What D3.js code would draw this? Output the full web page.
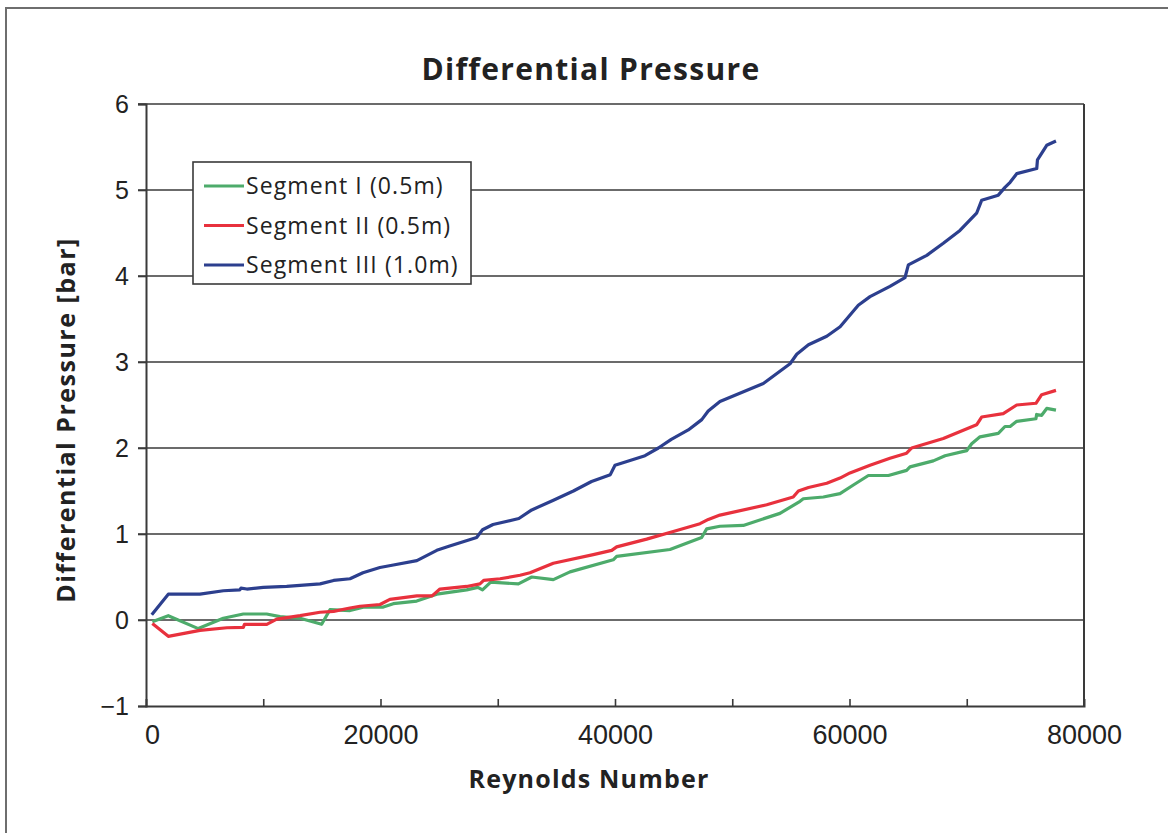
<!DOCTYPE html>
<html>
<head>
<meta charset="utf-8">
<script src="https://cdn.jsdelivr.net/npm/d3@7"></script>
<style>
  body { margin: 0; background: #fff; }
</style>
</head>
<body>
<script>
var W = 1168, H = 833;

// Reynolds number / differential pressure [bar]
var reSeg1 = [540, 1900, 4460, 6590, 8300, 10290, 11430, 13140, 14980, 15690, 17400, 18530, 20240, 21090, 23090, 24800, 27350, 28300, 28700, 29400, 31760, 32900, 34740, 36160, 39850, 40140, 44690, 47390, 47820, 48950, 50940, 54070, 55780, 56060, 57770, 59190, 60330, 61610, 63320, 64870, 65160, 67150, 68150, 70000, 70420, 71130, 72690, 73260, 73700, 74260, 75900, 75960, 76390, 76820, 77610];
var dpSeg1 = [-0.02, 0.05, -0.10, 0.02, 0.07, 0.07, 0.04, 0.02, -0.05, 0.12, 0.11, 0.15, 0.15, 0.19, 0.22, 0.30, 0.35, 0.38, 0.35, 0.44, 0.42, 0.50, 0.47, 0.56, 0.70, 0.74, 0.82, 0.96, 1.06, 1.09, 1.10, 1.24, 1.38, 1.41, 1.43, 1.47, 1.57, 1.68, 1.68, 1.74, 1.78, 1.85, 1.91, 1.97, 2.05, 2.13, 2.17, 2.25, 2.25, 2.31, 2.34, 2.39, 2.38, 2.46, 2.44];

var reSeg2 = [540, 1900, 4600, 6900, 8300, 8400, 10300, 11150, 13140, 14840, 16000, 17400, 18250, 19960, 20800, 23100, 24400, 25070, 27350, 28480, 28800, 30200, 31900, 32750, 34740, 38150, 39720, 40140, 42700, 44970, 47250, 47960, 48950, 52940, 55200, 55640, 56500, 58060, 59190, 60040, 61750, 63450, 64870, 65300, 68000, 70840, 71270, 73110, 74260, 75900, 76390, 77610];
var dpSeg2 = [-0.04, -0.19, -0.12, -0.09, -0.085, -0.05, -0.05, 0.01, 0.05, 0.09, 0.10, 0.14, 0.16, 0.18, 0.24, 0.28, 0.28, 0.36, 0.39, 0.42, 0.46, 0.48, 0.52, 0.55, 0.66, 0.76, 0.81, 0.85, 0.94, 1.03, 1.12, 1.17, 1.22, 1.34, 1.43, 1.50, 1.54, 1.59, 1.65, 1.71, 1.80, 1.88, 1.94, 2.00, 2.11, 2.27, 2.36, 2.40, 2.50, 2.52, 2.62, 2.67];

var reSeg3 = [490, 1900, 4600, 6600, 8000, 8100, 8600, 10000, 12000, 14850, 16000, 17400, 18500, 19950, 21100, 23100, 24800, 25900, 28200, 28700, 29600, 31800, 32900, 34700, 36450, 38000, 39600, 40000, 42560, 43700, 44800, 46250, 47400, 47950, 48950, 52650, 54930, 55500, 56500, 58060, 59200, 60750, 61750, 63450, 64730, 65020, 66590, 68000, 69420, 70840, 71270, 72690, 73260, 73700, 74260, 75970, 76030, 76820, 77610];
var dpSeg3 = [0.06, 0.30, 0.30, 0.34, 0.35, 0.37, 0.36, 0.38, 0.39, 0.42, 0.46, 0.48, 0.55, 0.61, 0.64, 0.69, 0.81, 0.86, 0.96, 1.05, 1.11, 1.18, 1.28, 1.39, 1.50, 1.61, 1.69, 1.80, 1.91, 2.00, 2.10, 2.21, 2.33, 2.43, 2.54, 2.75, 2.98, 3.09, 3.20, 3.30, 3.41, 3.66, 3.76, 3.88, 3.98, 4.13, 4.24, 4.38, 4.53, 4.73, 4.88, 4.94, 5.03, 5.09, 5.19, 5.25, 5.35, 5.52, 5.57];

var seriesNames = ["Segment I (0.5m)", "Segment II (0.5m)", "Segment III (1.0m)"];
var seriesColors = ["#4dab6b", "#e8313d", "#2c3f8e"];
var xTicks = [0, 20000, 40000, 60000, 80000];
var xMinorTicks = [10000, 20000, 30000, 40000, 50000, 60000, 70000];
var yTicks = [-1, 0, 1, 2, 3, 4, 5, 6];

var series = [
  { name: seriesNames[0], color: seriesColors[0], pts: d3.zip(reSeg1, dpSeg1) },
  { name: seriesNames[1], color: seriesColors[1], pts: d3.zip(reSeg2, dpSeg2) },
  { name: seriesNames[2], color: seriesColors[2], pts: d3.zip(reSeg3, dpSeg3) }
];

var pLeft = 146, pRight = 1084, pTop = 104, pBottom = 706;

var svg = d3.select("body").append("svg")
    .attr("width", W)
    .attr("height", H);

svg.append("rect")
    .attr("x", 6).attr("y", 8)
    .attr("width", W + 10).attr("height", H + 10)
    .attr("fill", "none")
    .attr("stroke", "#6e6e6e")
    .attr("stroke-width", 2);

var x = d3.scaleLinear().domain([0, 80000]).range([pLeft, pRight]);
var y = d3.scaleLinear().domain([-1, 6]).range([pBottom, pTop]);

// horizontal grid
svg.append("g")
    .selectAll("line")
    .data(yTicks.filter(function(d) { return d > -1; }))
    .enter()
    .append("line")
    .attr("x1", pLeft - 8)
    .attr("x2", pRight)
    .attr("y1", function(d) { return y(d); })
    .attr("y2", function(d) { return y(d); })
    .attr("stroke", "#3a3a3a")
    .attr("stroke-width", 1.6);

// y axis
var yAxis = svg.append("g")
    .attr("transform", "translate(" + pLeft + ",0)")
    .call(d3.axisLeft(y).tickValues(yTicks).tickSize(8).tickPadding(9).tickFormat(d3.format("d")));
yAxis.select(".domain").attr("stroke", "#3a3a3a").attr("stroke-width", 2);
yAxis.selectAll(".tick line").attr("stroke", "#3a3a3a").attr("stroke-width", 1.6);
yAxis.selectAll(".tick text")
    .attr("font-family", "Liberation Sans, Arial, sans-serif")
    .attr("font-size", "25px")
    .attr("fill", "#222");

// x axis, ticks pointing inward
var xAxis = svg.append("g")
    .attr("transform", "translate(0," + pBottom + ")")
    .call(d3.axisBottom(x).tickValues(xMinorTicks).tickSize(-7).tickFormat(""));
xAxis.select(".domain").attr("stroke", "#3a3a3a").attr("stroke-width", 2);
xAxis.selectAll(".tick line").attr("stroke", "#3a3a3a").attr("stroke-width", 1.6);

var xLabels = svg.append("g")
    .attr("transform", "translate(0," + pBottom + ")")
    .call(d3.axisBottom(x).tickValues(xTicks).tickSize(0).tickPadding(19).tickFormat(d3.format("d")));
xLabels.select(".domain").remove();
xLabels.selectAll(".tick text")
    .attr("font-family", "Liberation Sans, Arial, sans-serif")
    .attr("font-size", "27px")
    .attr("fill", "#222");
xLabels.select(".tick text").attr("dx", 6);

// right frame
svg.append("line")
    .attr("x1", pRight).attr("x2", pRight)
    .attr("y1", pTop).attr("y2", pBottom)
    .attr("stroke", "#3a3a3a")
    .attr("stroke-width", 2);

var line = d3.line()
    .x(function(d) { return x(d[0]); })
    .y(function(d) { return y(d[1]); });

svg.append("g")
    .selectAll("path")
    .data(series)
    .enter()
    .append("path")
    .attr("d", function(d) { return line(d.pts); })
    .attr("fill", "none")
    .attr("stroke", function(d) { return d.color; })
    .attr("stroke-width", 3.2)
    .attr("stroke-linejoin", "round");

// legend
var lg = svg.append("g");
lg.append("rect")
    .attr("x", 193).attr("y", 162)
    .attr("width", 278).attr("height", 122)
    .attr("fill", "#fff")
    .attr("stroke", "#3a3a3a")
    .attr("stroke-width", 1.6);

var items = lg.selectAll("g.item")
    .data(series)
    .enter()
    .append("g")
    .attr("transform", function(d, i) { return "translate(204," + (186 + i * 39.5) + ")"; });
items.append("line")
    .attr("x1", 0).attr("x2", 40)
    .attr("stroke", function(d) { return d.color; })
    .attr("stroke-width", 3.2);
items.append("text")
    .attr("x", 42)
    .attr("y", 8)
    .text(function(d) { return d.name; })
    .attr("font-family", "Open Sans, sans-serif")
    .attr("font-size", "23px")
    .attr("letter-spacing", "1.1px")
    .attr("fill", "#222");

// titles
svg.append("text")
    .attr("x", 591).attr("y", 80)
    .attr("text-anchor", "middle")
    .attr("font-family", "Open Sans, sans-serif")
    .attr("font-weight", "bold")
    .attr("font-size", "30px")
    .attr("letter-spacing", "1.3px")
    .attr("fill", "#222")
    .text("Differential Pressure");

svg.append("text")
    .attr("x", 589).attr("y", 788)
    .attr("text-anchor", "middle")
    .attr("font-family", "Open Sans, sans-serif")
    .attr("font-weight", "bold")
    .attr("font-size", "25px")
    .attr("letter-spacing", "1.2px")
    .attr("fill", "#222")
    .text("Reynolds Number");

svg.append("text")
    .attr("transform", "translate(75,420) rotate(-90)")
    .attr("text-anchor", "middle")
    .attr("font-family", "Open Sans, sans-serif")
    .attr("font-weight", "bold")
    .attr("font-size", "25px")
    .attr("letter-spacing", "1.5px")
    .attr("fill", "#222")
    .text("Differential Pressure [bar]");
</script>
</body>
</html>
